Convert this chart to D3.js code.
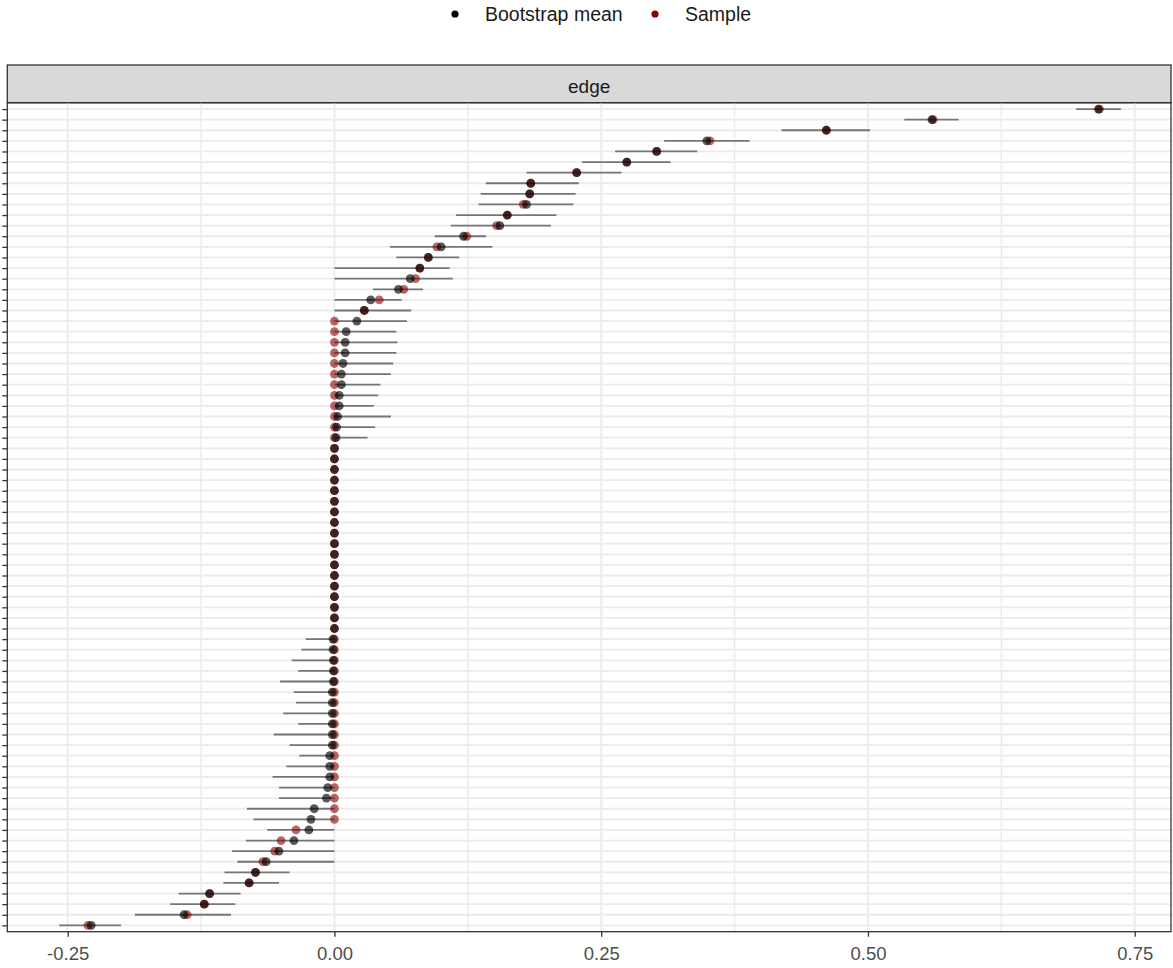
<!DOCTYPE html>
<html>
<head>
<meta charset="utf-8">
<script src="https://cdn.jsdelivr.net/npm/d3@7"></script>
<style>
  body { margin: 0; background: #fff; }
  text { font-family: Arial, "Liberation Sans", sans-serif; }
</style>
</head>
<body>
<svg id="chart" width="1173" height="968"></svg>
<script>
// edge values, sorted by sample from top to bottom (78 edges)
var sampleVals = [
  0.717, 0.561, 0.461, 0.352, 0.302, 0.274, 0.227, 0.184, 0.183, 0.177,
  0.162, 0.152, 0.124, 0.096, 0.088, 0.080, 0.076, 0.065, 0.042, 0.028,
  0, 0, 0, 0, 0, 0, 0, 0, 0, 0,
  0, 0, 0, 0, 0, 0, 0, 0, 0, 0,
  0, 0, 0, 0, 0, 0, 0, 0, 0, 0,
  0, 0, 0, 0, 0, 0, 0, 0, 0, 0,
  0, 0, 0, 0, 0, 0, 0, 0, -0.036, -0.050,
  -0.056, -0.067, -0.074, -0.080, -0.117, -0.122, -0.138, -0.231
];
var bootMeans = [
  0.716, 0.560, 0.461, 0.349, 0.302, 0.274, 0.227, 0.184, 0.183, 0.180,
  0.162, 0.155, 0.121, 0.100, 0.088, 0.080, 0.071, 0.060, 0.034, 0.028,
  0.021, 0.011, 0.010, 0.010, 0.008, 0.0065, 0.0065, 0.0045, 0.0045, 0.003,
  0.002, 0.0015, 0, 0, 0, 0, 0, 0, 0, 0,
  0, 0, 0, 0, 0, 0, 0, 0, 0, 0,
  -0.0013, -0.0013, -0.001, -0.001, -0.001, -0.002, -0.002, -0.002, -0.002, -0.002,
  -0.002, -0.0044, -0.0044, -0.0044, -0.0063, -0.0075, -0.019, -0.022, -0.024, -0.038,
  -0.052, -0.064, -0.074, -0.080, -0.117, -0.122, -0.141, -0.228
];
var ciLower = [
  0.695, 0.534, 0.419, 0.309, 0.263, 0.232, 0.180, 0.142, 0.137, 0.135,
  0.114, 0.109, 0.094, 0.052, 0.058, 0, 0, 0.036, 0, 0,
  0, 0, 0, 0, 0, 0, 0, 0, 0, 0,
  0, 0, 0, 0, 0, 0, 0, 0, 0, 0,
  0, 0, 0, 0, 0, 0, 0, 0, 0, 0,
  -0.027, -0.031, -0.040, -0.034, -0.051, -0.038, -0.036, -0.048, -0.034, -0.057,
  -0.042, -0.033, -0.045, -0.058, -0.052, -0.052, -0.082, -0.076, -0.063, -0.083,
  -0.096, -0.091, -0.103, -0.104, -0.146, -0.154, -0.187, -0.258
];
var ciUpper = [
  0.737, 0.585, 0.502, 0.389, 0.340, 0.315, 0.269, 0.229, 0.226, 0.224,
  0.208, 0.203, 0.142, 0.148, 0.117, 0.108, 0.111, 0.083, 0.063, 0.072,
  0.068, 0.058, 0.059, 0.058, 0.055, 0.053, 0.043, 0.041, 0.037, 0.053,
  0.038, 0.031, 0, 0, 0, 0, 0, 0, 0, 0,
  0, 0, 0, 0, 0, 0, 0, 0, 0, 0,
  0, 0, 0, 0, 0, 0, 0, 0, 0, 0,
  0, 0, 0, 0, 0, 0, 0, 0, 0, 0,
  0, 0, -0.042, -0.052, -0.088, -0.093, -0.097, -0.200
];
var xTicks = [-0.25, 0, 0.25, 0.5, 0.75];
var xMinor = [-0.125, 0.125, 0.375, 0.625];
var legendLabels = ["Bootstrap mean", "Sample"];
var legendColors = ["#000000", "#8b0000"];
var stripLabel = "edge";

var panel = {left: 7.3, right: 1171, top: 102.7, bottom: 931.7};
var stripTop = 65;

var svg = d3.select("#chart");

var rows = d3.range(sampleVals.length);

var x = d3.scaleLinear()
  .domain([-0.3066, 0.784])
  .range([panel.left, panel.right]);

var y = d3.scalePoint()
  .domain(rows)
  .range([panel.top, panel.bottom])
  .padding(0.6);

// strip
svg.append("rect")
  .attr("x", panel.left).attr("y", stripTop)
  .attr("width", panel.right - panel.left)
  .attr("height", panel.top - stripTop)
  .attr("fill", "#d9d9d9")
  .attr("stroke", "#333333").attr("stroke-width", 1.3);
svg.append("text")
  .attr("x", (panel.left + panel.right) / 2)
  .attr("y", 93)
  .attr("text-anchor", "middle")
  .attr("font-size", "19px")
  .attr("fill", "#1a1a1a")
  .text(stripLabel);

// grid
var grid = svg.append("g");
grid.selectAll(".hg").data(rows).enter().append("line")
  .attr("x1", panel.left).attr("x2", panel.right)
  .attr("y1", function(d){ return y(d); })
  .attr("y2", function(d){ return y(d); })
  .attr("stroke", "#ebebeb").attr("stroke-width", 1.8);
grid.selectAll(".vm").data(xMinor).enter().append("line")
  .attr("y1", panel.top).attr("y2", panel.bottom)
  .attr("x1", function(d){ return x(d); })
  .attr("x2", function(d){ return x(d); })
  .attr("stroke", "#ebebeb").attr("stroke-width", 1.4);
grid.selectAll(".vg").data(xTicks).enter().append("line")
  .attr("y1", panel.top).attr("y2", panel.bottom)
  .attr("x1", function(d){ return x(d); })
  .attr("x2", function(d){ return x(d); })
  .attr("stroke", "#ebebeb").attr("stroke-width", 1.8);

// CI lines
svg.append("g").selectAll("line").data(rows).enter().append("line")
  .attr("x1", function(i){ return x(ciLower[i]); })
  .attr("x2", function(i){ return x(ciUpper[i]); })
  .attr("y1", function(i){ return y(i); })
  .attr("y2", function(i){ return y(i); })
  .attr("stroke", "#000").attr("stroke-opacity", 0.5)
  .attr("stroke-width", 1.8);

// sample points
svg.append("g").selectAll("circle").data(rows).enter().append("circle")
  .attr("cx", function(i){ return x(sampleVals[i]); })
  .attr("cy", function(i){ return y(i); })
  .attr("r", 4.4)
  .attr("fill", legendColors[1]).attr("fill-opacity", 0.6);

// bootstrap mean points
svg.append("g").selectAll("circle").data(rows).enter().append("circle")
  .attr("cx", function(i){ return x(bootMeans[i]); })
  .attr("cy", function(i){ return y(i); })
  .attr("r", 4.4)
  .attr("fill", legendColors[0]).attr("fill-opacity", 0.65);

// panel border
svg.append("rect")
  .attr("x", panel.left).attr("y", panel.top)
  .attr("width", panel.right - panel.left)
  .attr("height", panel.bottom - panel.top)
  .attr("fill", "none")
  .attr("stroke", "#333333").attr("stroke-width", 1.3);

// y axis: ticks only, no labels
var yAxis = d3.axisLeft(y).tickSize(5).tickFormat("");
svg.append("g")
  .attr("transform", "translate(" + panel.left + ",0)")
  .call(yAxis)
  .call(function(g){
    g.select(".domain").remove();
    g.selectAll(".tick line").attr("stroke", "#333333").attr("stroke-width", 1.3);
  });

// x axis
var xAxis = d3.axisBottom(x).tickValues(xTicks).tickSize(5).tickPadding(10)
  .tickFormat(d3.format(".2f"));
svg.append("g")
  .attr("transform", "translate(0," + panel.bottom + ")")
  .call(xAxis)
  .call(function(g){
    g.select(".domain").remove();
    g.selectAll(".tick line").attr("stroke", "#333333").attr("stroke-width", 1.3);
    g.selectAll(".tick text")
      .attr("font-size", "18.5px")
      .attr("font-family", "Arial, 'Liberation Sans', sans-serif")
      .attr("fill", "#4d4d4d")
      .text(function(d){ return d3.format(".2f")(d).replace("−", "-"); });
  });

// legend
var legendX = [455, 655];
var legend = svg.append("g");
legendLabels.forEach(function(lab, i){
  legend.append("circle")
    .attr("cx", legendX[i]).attr("cy", 14).attr("r", 3.6)
    .attr("fill", legendColors[i]);
  legend.append("text")
    .attr("x", legendX[i] + 30).attr("y", 20.5)
    .attr("font-size", "19.5px")
    .attr("fill", "#1a1a1a")
    .text(lab);
});
</script>
</body>
</html>
